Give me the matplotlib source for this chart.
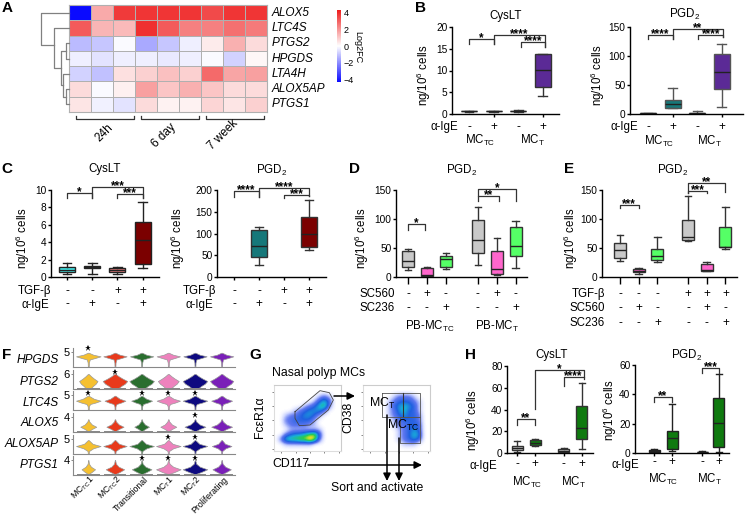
import numpy as np
import matplotlib
matplotlib.use('Agg')
import matplotlib.pyplot as plt
from matplotlib.colors import LinearSegmentedColormap
from matplotlib.transforms import blended_transform_factory

plt.rcParams['font.family'] = ['Liberation Sans', 'DejaVu Sans']
plt.rcParams['mathtext.default'] = 'regular'

W, H = 745, 516

# --- panel A
genes_a = ['ALOX5', 'LTC4S', 'PTGS2', 'HPGDS', 'LTA4H', 'ALOX5AP', 'PTGS1']
heat = [[-4.5, 1.6, 3.7, 3.8, 3.8, 3.8, 3.4, 3.8, 3.8],
        [3.1, 1.4, 1.3, 3.9, 3.1, 2.4, 2.4, 2.7, 2.5],
        [-1.2, -1.0, -0.1, -1.5, -1.0, -0.3, 0.4, 1.5, 0.7],
        [-0.3, -0.5, -0.3, -0.3, -0.4, -0.3, -0.1, -0.8, 0.15],
        [-0.8, -1.1, 0.6, 0.9, 1.2, 0.9, 2.8, 1.7, 1.8],
        [0.7, -0.1, 0.3, 1.8, 1.1, 1.5, 1.1, 0.7, 0.7],
        [0.5, -0.25, -0.5, 0.7, 0.25, 0.25, 0.8, 0.5, 0.9]]
times_a = ['24h', '6 day', '7 week']

# --- box stats: low whisker, q1, median, q3, high whisker
b_cyslt = [[.5, .6, .65, .7, .7], [.5, .6, .65, .7, .8], [.5, .6, .7, .8, 1.0], [4.2, 6.1, 10.1, 13.9, 13.9]]
b_pgd2 = [[.5, .5, 1, 1, 1.5], [10, 11, 18, 25, 45], [0, 0, 1, 2, 6], [12, 43, 73, 104, 121]]
c_cyslt = [[.35, .6, .85, 1.1, 1.6], [.4, 1.0, 1.15, 1.3, 1.6], [.3, .55, .8, 1.05, 1.15], [1.05, 1.5, 4.2, 6.3, 8.6]]
c_pgd2 = [[28, 47, 72, 109, 114], [62, 68, 99, 137, 177]]
d_pgd2 = [[12, 17, 28, 45, 48], [2, 2.5, 3, 15, 17], [13, 18, 31, 36, 41],
          [21, 42, 64, 98, 121], [3, 6, 13, 44, 68], [16, 36, 53, 86, 96]]
e_pgd2 = [[27, 32, 46, 58, 73], [6, 8.6, 11, 14, 15], [26, 30, 37, 49, 69],
          [62, 63, 69, 98, 140], [10, 10, 12.5, 22, 26], [49, 51, 52, 86, 120]]
h_cyslt = [[.5, 2.7, 5, 6.4, 11], [6, 7.3, 9.5, 11.6, 13], [.3, .9, 2.1, 3.4, 5], [3.7, 13, 23, 43, 64]]
h_pgd2 = [[.5, 1, 1.4, 2, 3], [1.4, 3, 10, 15, 33.6], [.3, .5, .7, .9, 1.1], [.5, 4, 20.5, 37.7, 53.6]]

GREY, PINK, GREEN = '#c9c9c9', '#ff66cc', '#55ff66'
PURPLE, TEAL, DRED, HGREEN = '#5b2a96', '#16787a', '#7b0000', '#0f7a0f'

# --- panel F violins: height level and relative half width of each gene's outline
genes_f = ['HPGDS', 'PTGS2', 'LTC4S', 'ALOX5', 'ALOX5AP', 'PTGS1']
ticks_f = [5, 6, 5, 4, 5, 4]
levels_f = [[.05, .3, .5, .6, .71, .82, .95],
            [.05, .1, .2, .35, .53, .7, .85, 1.0],
            [.03, .25, .4, .5, .62, .75, .95],
            [.02, .08, .2, .35, .5, .7, .85],
            [.03, .2, .38, .53, .68, .93],
            [.02, .08, .2, .38, .55, .75, 1.0]]
widths_f = [[.04, .05, .12, .55, 1.0, .4, .04],
            [.2, .35, .5, .8, 1.0, .6, .3, .05],
            [.04, .05, .15, .6, 1.0, .45, .04],
            [.6, .12, .45, 1.0, .45, .12, .03],
            [.04, .06, .4, 1.0, .35, .03],
            [.6, .1, .5, 1.0, .4, .1, .02]]
scale_f = [[1, .95, .95, .95, .95, .95],
           [.75, 1, 1, .85, 1, .95],
           [1, .85, .85, .95, 1, .85],
           [.65, .7, .6, .65, .85, .85],
           [1, .95, 1, 1, 1, .8],
           [.55, .75, .8, 1, 1, .75]]
has_base_f = [False, True, False, True, False, True]
stars_f = [[0], [1], [0, 2, 3, 4], [4], [3, 4], [2, 3, 4]]
clusters = ['MC$_{TC}$1', 'MC$_{TC}$2', 'Transitional', 'MC$_{T}$1', 'MC$_{T}$2', 'Proliferating']
cluster_colors = ['#f5c030', '#e83a1c', '#2a6e2f', '#ee82bd', '#0e0a80', '#7a20b8']

# --- panel G density read by eye on a coarse grid, 0 empty to 9 peak
density_left = ['00000000000000',
                '00000000000000',
                '00000000012100',
                '00000000135300',
                '00000012356200',
                '00001234442000',
                '00122344310000',
                '00223333100000',
                '00122221100000',
                '00011111110000',
                '00234456730000',
                '02566779720000',
                '00111111000000',
                '00000000000000']
density_right = ['00000000000000',
                 '00000000000000',
                 '00000012221000',
                 '00000123332100',
                 '00000134543100',
                 '00000124533100',
                 '00000123433200',
                 '00000012333200',
                 '00000012233300',
                 '00000001234300',
                 '00000001235400',
                 '00000001234300',
                 '00000000111000',
                 '00000000000000']

fig = plt.figure(figsize=(W / 100, H / 100), dpi=100)


def px_axes(left, right, top, bottom):
    return fig.add_axes([left / W, 1 - bottom / H, (right - left) / W, (bottom - top) / H])


over = fig.add_axes([0, 0, 1, 1], zorder=20)
over.set_xlim(0, W)
over.set_ylim(H, 0)
over.axis('off')


def label(x, y, s, size=8.3, ha='center', va='center', **kw):
    over.text(x, y, s, fontsize=size, ha=ha, va=va, **kw)


def box_panel(left, right, top, bottom, first, step, stats, pos, colors, edge, ymax, yticks,
              box_px=16, med='#222222', xtick_len=2.2):
    ax = px_axes(left, right, top, bottom)
    ax.set_xlim(1 + (left - first) / step, 1 + (right - first) / step)
    ax.set_ylim(0, ymax)
    dicts = [dict(whislo=s[0], q1=s[1], med=s[2], q3=s[3], whishi=s[4]) for s in stats]
    wd = box_px / step
    art = ax.bxp(dicts, positions=pos, widths=wd, patch_artist=True, showfliers=False,
                 manage_ticks=False, capwidths=wd * .55,
                 boxprops=dict(lw=1.0), whiskerprops=dict(lw=1.0, color=edge),
                 capprops=dict(lw=1.0, color=edge), medianprops=dict(lw=1.0, color=med))
    for b, c in zip(art['boxes'], colors):
        b.set_facecolor(c)
        b.set_edgecolor(edge)
    for side in ['top', 'right']:
        ax.spines[side].set_visible(False)
    for side in ['left', 'bottom']:
        ax.spines[side].set_linewidth(1.0)
    ax.set_yticks(yticks)
    ax.tick_params(axis='y', labelsize=7.3, length=2.2, width=1.0, pad=1)
    ax.tick_params(axis='x', length=xtick_len, width=1.0, labelbottom=False)
    ax.patch.set_alpha(0)
    return ax


def signs(ax, pos, row, y):
    tr = blended_transform_factory(ax.transData, over.transData)
    for p, s in zip(pos, row):
        over.text(p, y, s, transform=tr, fontsize=8.5, ha='center', va='center')


def brackets(ax, items, color='#333333'):
    tr = blended_transform_factory(ax.transData, over.transData)
    for x1, x2, y, d1, d2, st in items:
        over.plot([x1, x1, x2, x2], [d1, y, y, d2], transform=tr, color=color, lw=0.9, clip_on=False)
        over.text((x1 + x2) / 2, y - 0.5, st, transform=tr, fontsize=8.5, fontweight='bold',
                  ha='center', va='center')


# ---------- A
heat_cmap = LinearSegmentedColormap.from_list('hm', ['#0a0aff', '#ffffff', '#ee1c1c'])
ax = px_axes(69, 267, 5, 112)
mesh = ax.pcolormesh(np.array(heat), cmap=heat_cmap, vmin=-4.3, vmax=4.3, edgecolors='#b0b0b0', linewidth=0.7)
ax.invert_yaxis()
ax.set_xticks([])
ax.set_yticks([])
for s in ax.spines.values():
    s.set_color('#b0b0b0')
row_c = [5 + (i + .5) * 107 / 7 for i in range(7)]
for y, g in zip(row_c, genes_a):
    label(272, y, g, size=8.5, ha='left', style='italic')
cax = px_axes(337, 341, 10, 82)
cb = fig.colorbar(mesh, cax=cax)
cb.outline.set_visible(False)
cb.set_ticks([-4, -2, 0, 2, 4])
cb.ax.tick_params(labelsize=6.5, length=0, pad=2)
label(358, 47, 'Log2FC', size=6.5, rotation=270)
# dendrogram
dendro = [([69, 41, 41, 54], [row_c[0], row_c[0], 45, 45]),
          ([69, 54, 54, 61], [row_c[1], row_c[1], 68, 68]),
          ([66, 61, 61, 63], [51, 51, 85, 85]),
          ([69, 66, 66, 69], [row_c[2], row_c[2], row_c[3], row_c[3]]),
          ([69, 63, 63, 66], [row_c[4], row_c[4], 97, 97]),
          ([69, 66, 66, 69], [row_c[5], row_c[5], row_c[6], row_c[6]])]
for xs, ys in dendro:
    over.plot(xs, ys, color='#808080', lw=0.9)
for (x1, x2), name, lx, ly in zip([(76, 134), (141, 199), (206, 264)], times_a,
                                  [104, 164, 223], [133, 136, 135]):
    over.plot([x1, x1, x2, x2], [116, 119, 119, 116], color='#333333', lw=0.9)
    label(lx, ly, name, size=8.5, rotation=45)

# ---------- B
pos4 = [1, 2, 3, 4]
ax = box_panel(452, 559, 27, 114, 469, 24.6, b_cyslt, pos4, ['#444444', '#444444', '#444444', PURPLE], '#333333',
               20, [0, 5, 10, 15, 20])
signs(ax, pos4, ['-', '+', '-', '+'], 127)
brackets(ax, [(1, 2, 39, 44, 44, '*'), (2, 4.1, 35, 44, 47, '****'), (3.1, 4.1, 42, 47, 47, '****')])
label(506, 16, 'CysLT')
label(424, 75, 'ng/10$^6$ cells', rotation=90)
label(458, 127, 'α-IgE', ha='right')
label(480, 140, 'MC$_{TC}$')
label(532, 140, 'MC$_{T}$')

ax = box_panel(630, 743, 27, 114, 648, 24.6, b_pgd2, pos4, ['#444444', TEAL, '#444444', PURPLE], '#555555',
               150, [0, 50, 100, 150])
signs(ax, pos4, ['-', '+', '-', '+'], 127)
brackets(ax, [(1, 2, 35, 39, 39, '****'), (2, 4.05, 29, 39, 37, '**'), (3.05, 4.05, 35, 39, 37, '****')])
label(685, 14, 'PGD$_2$')
label(598, 75, 'ng/10$^6$ cells', rotation=90)
label(638, 127, 'α-IgE', ha='right')
label(659, 141, 'MC$_{TC}$')
label(709, 141, 'MC$_{T}$')

# ---------- C
ax = box_panel(51, 159, 190, 277, 67, 25.2, c_cyslt, pos4, ['#44eeee', '#1f8f8f', '#f08080', DRED], '#222222',
               10, [0, 2, 4, 6, 8, 10])
ax.set_xticks(pos4)
signs(ax, pos4, ['-', '-', '+', '+'], 291)
signs(ax, pos4, ['-', '+', '-', '+'], 304)
brackets(ax, [(1, 2, 193, 198, 198, '*'), (2, 4, 187, 198, 198, '***'), (3, 4, 194, 198, 198, '***')])
label(105, 169, 'CysLT')
label(23, 238, 'ng/10$^6$ cells', rotation=90)
label(51, 291, 'TGF-β', ha='right')
label(49, 305, 'α-IgE', ha='right')

ax = box_panel(217, 326, 190, 277, 234, 25, c_pgd2, [2, 4], [TEAL, DRED], '#333333', 200, [0, 50, 100, 150, 200])
ax.set_xticks(pos4)
signs(ax, pos4, ['-', '-', '+', '+'], 291)
signs(ax, pos4, ['-', '+', '-', '+'], 304)
brackets(ax, [(1, 2, 191, 197, 197, '****'), (2, 4, 188, 197, 196, '****'), (3, 4, 195, 198, 196, '***')])
label(272, 170, 'PGD$_2$')
label(178, 238, 'ng/10$^6$ cells', rotation=90)
label(216, 291, 'TGF-β', ha='right')
label(213, 305, 'α-IgE', ha='right')

# ---------- D
pos6 = [1, 2, 3, 4.7, 5.7, 6.7]
tri = [GREY, PINK, GREEN, GREY, PINK, GREEN]
ax = box_panel(396, 527, 190, 277, 408, 18.9, d_pgd2, pos6, tri, '#333333', 150, [0, 50, 100, 150],
               box_px=12, xtick_len=5)
ax.set_xticks(pos6)
signs(ax, pos6, ['-', '+', '-', '-', '+', '-'], 294)
signs(ax, pos6, ['-', '-', '+', '-', '-', '+'], 308)
brackets(ax, [(1, 1.9, 224, 230, 230, '*'), (4.7, 5.8, 196, 201, 201, '**'), (4.7, 6.7, 189, 196, 201, '*')])
label(462, 170, 'PGD$_2$')
label(362, 238, 'ng/10$^6$ cells', rotation=90)
label(395, 294, 'SC560', ha='right')
label(395, 308, 'SC236', ha='right')
label(430, 326, 'PB-MC$_{TC}$')
label(497, 326, 'PB-MC$_{T}$')

# ---------- E
pos6e = [1, 2, 3, 4.64, 5.64, 6.64]
ax = box_panel(602, 737, 190, 277, 620, 18.7, e_pgd2, pos6e, tri, '#333333', 150, [0, 50, 100, 150],
               box_px=12, xtick_len=5)
ax.set_xticks(pos6e)
signs(ax, pos6e, ['-', '-', '-', '+', '+', '+'], 294)
signs(ax, pos6e, ['-', '+', '-', '-', '+', '-'], 308)
signs(ax, pos6e, ['-', '-', '+', '-', '-', '+'], 323)
brackets(ax, [(1, 2, 205, 208, 208, '***'), (4.64, 5.64, 191, 193, 193, '***'), (4.64, 6.64, 183, 193, 192, '**')])
label(673, 170, 'PGD$_2$')
label(571, 238, 'ng/10$^6$ cells', rotation=90)
label(605, 294, 'TGF-β', ha='right')
label(605, 308, 'SC560', ha='right')
label(605, 323, 'SC236', ha='right')

# ---------- F
for i, gene in enumerate(genes_f):
    base = [367, 389, 410, 432, 454, 475][i]
    ax = px_axes(73, 235, base - 19, base)
    ax.set_xlim((73 - 88.3) / 26.67, (235 - 88.3) / 26.67)
    ax.set_ylim(0, 19 / 15)
    ax.patch.set_alpha(0)
    for k, col in enumerate(cluster_colors):
        hw = np.array(widths_f[i]) * scale_f[i][k] * .46
        ax.fill_betweenx(levels_f[i], k - hw, k + hw, color=col, ec='#999999', lw=0.5)
        if has_base_f[i]:
            ax.fill_between([k - .42, k + .42], 0, .05, color='#888888', lw=0)
    ax.plot(stars_f[i], [1.14 + (.1 if i == 0 else 0)] * len(stars_f[i]), '*', color='black', ms=5, clip_on=False, mew=0)
    for side in ['top', 'right']:
        ax.spines[side].set_visible(False)
    for side in ['left', 'bottom']:
        ax.spines[side].set_color('#888888')
    ax.set_xticks([])
    ax.set_yticks([1], [str(ticks_f[i])])
    ax.tick_params(axis='y', labelsize=8, length=1.5, width=.7, pad=1, color='#888888')
    label(59, [360, 382, 403, 423, 444, 465][i], gene, size=8.6, ha='right', style='italic')
for k, name in enumerate(clusters):
    over.text(88.3 + k * 26.67 + 5, 478, name, fontsize=6.3, rotation=45, rotation_mode='anchor',
              ha='right', va='center')

# ---------- G
flow_cmap = LinearSegmentedColormap.from_list('flow', [(0, '#ffffff'), (.08, '#ccd4ff'), (.2, '#6078f0'),
                                                       (.35, '#2060e0'), (.5, '#18b0d8'), (.65, '#28cc50'),
                                                       (.8, '#eee020'), (1, '#e82a10')])
for grid, l in zip([density_left, density_right], [274, 363]):
    ax = px_axes(l, l + 67, 385, 451)
    ax.imshow([[int(c) for c in row] for row in grid], cmap=flow_cmap, vmin=0, vmax=9,
              interpolation='bicubic', aspect='auto')
    for s in ['top', 'right']:
        ax.spines[s].set_color('#cccccc')
    for s in ['left', 'bottom']:
        ax.spines[s].set_color('#dddddd')
    ax.set_xticks([1, 4, 7, 10, 13], [''] * 5)
    ax.set_yticks([1, 4, 7, 10, 13], [''] * 5)
    ax.tick_params(length=1.5, width=.5, color='#555555')

gate = [(75, 95), (150, 32), (178, 38), (190, 60), (175, 90), (120, 135), (88, 137), (75, 115), (75, 95)]
over.plot([270 + p[0] / 3 for p in gate], [380 + p[1] / 3 for p in gate], color='#444444', lw=0.6)
over.plot([382, 420, 420, 382, 382], [393, 393, 417, 417, 393], color='#555555', lw=0.6)
over.plot([403, 403], [393, 417], color='#333333', lw=0.8)
over.plot([400, 420, 420, 400, 400], [417, 417, 443, 443, 417], color='#555555', lw=0.6)
arrow = dict(arrowstyle='-|>', color='black', lw=1.1, mutation_scale=11, shrinkA=0, shrinkB=0)
over.annotate('', xy=(355, 396), xytext=(334, 396), arrowprops=arrow)
over.annotate('', xy=(422, 465), xytext=(308, 465), arrowprops=arrow)
over.annotate('', xy=(387, 481), xytext=(387, 415), arrowprops=arrow)
over.annotate('', xy=(399, 481), xytext=(399, 438), arrowprops=arrow)
label(319, 373, 'Nasal polyp MCs', size=8.8)
label(377, 488, 'Sort and activate', size=8.8)
label(291, 464, 'CD117', size=8.8)
label(260, 417, 'FcεR1α', size=8.8, rotation=90)
label(348, 417, 'CD38', size=8.8, rotation=90)
label(382, 403, 'MC$_{T}$', size=8.8)
label(403, 425, 'MC$_{TC}$', size=8.8)

# ---------- H
pos_h = [1, 2, 3.6, 4.6]
ax = box_panel(507, 593, 366, 453, 517, 18, h_cyslt, pos_h, [GREY, HGREEN, GREY, HGREEN], '#333333',
               80, [0, 20, 40, 60, 80], box_px=11)
ax.set_xticks(pos_h)
signs(ax, pos_h, ['-', '+', '-', '+'], 464)
brackets(ax, [(1, 2, 419, 425, 425, '**'), (2, 4.7, 370, 409, 377, '*'), (3.6, 4.7, 377, 386, 379, '****')])
label(552, 355, 'CysLT')
label(473, 420, 'ng/10$^6$ cells', rotation=90)
label(497, 466, 'α-IgE', ha='right')
label(527, 482, 'MC$_{TC}$')
label(573, 482, 'MC$_{T}$')

pos_h2 = [1, 2, 3.67, 4.6]
ax = box_panel(635, 729, 365, 453, 654, 18, h_pgd2, pos_h2, [GREY, HGREEN, GREY, HGREEN], '#222222',
               60, [0, 20, 40, 60], box_px=11)
ax.set_xticks(pos_h2)
signs(ax, pos_h2, ['-', '+', '-', '+'], 462)
brackets(ax, [(1, 2, 397, 402, 402, '**'), (3.67, 4.6, 368, 373, 373, '***')])
label(687, 355, 'PGD$_2$')
label(610, 410, 'ng/10$^6$ cells', rotation=90)
label(639, 465, 'α-IgE', ha='right')
label(663, 479, 'MC$_{TC}$')
label(709, 479, 'MC$_{T}$')

# ---------- panel letters
for s, x, y in [('A', 7, 8), ('B', 420, 8), ('C', 7, 169), ('D', 355, 169), ('E', 569, 169),
                ('F', 7, 355), ('G', 255, 355), ('H', 471, 355)]:
    label(x, y, s, size=11, fontweight='bold')

fig.savefig('out.png', dpi=100)
